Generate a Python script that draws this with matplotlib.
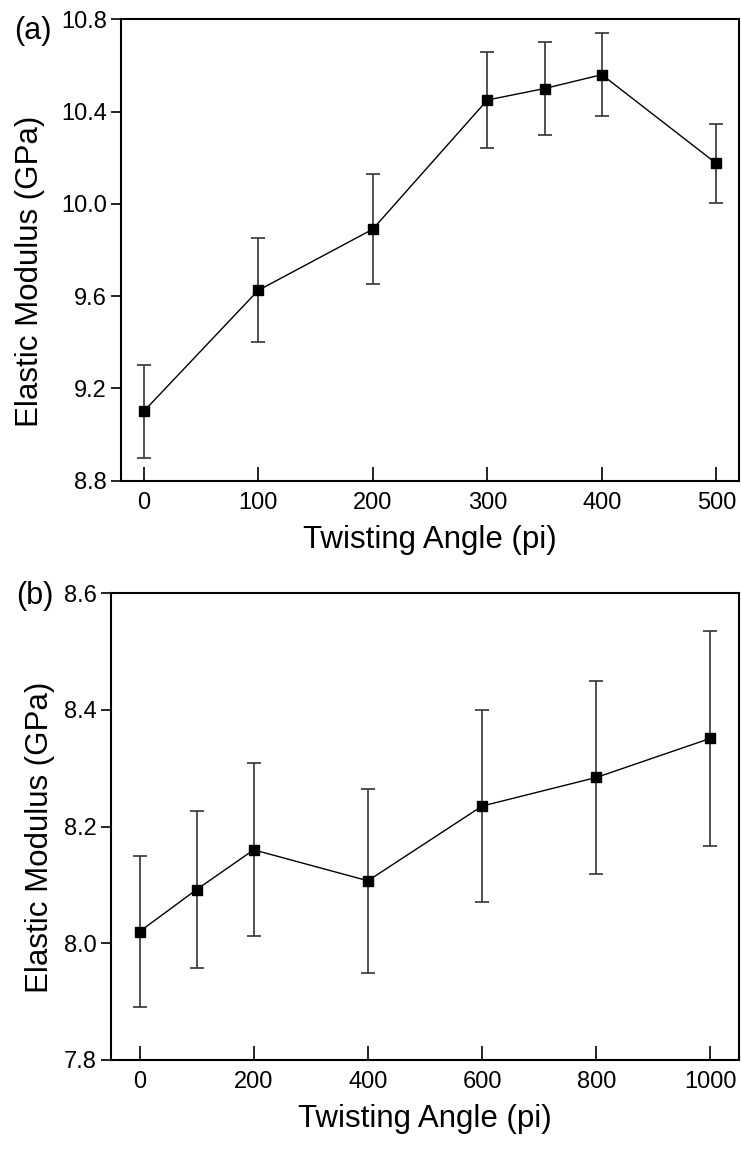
import matplotlib
matplotlib.use('Agg')
import matplotlib.pyplot as plt

plt.rcParams.update({
    'font.family': ['Liberation Sans', 'DejaVu Sans'],
    'font.size': 17,
})

# panel (a)
angle_a = [0, 100, 200, 300, 350, 400, 500]
mod_a = [9.10, 9.625, 9.89, 10.45, 10.50, 10.56, 10.175]
err_a = [0.20, 0.225, 0.238, 0.21, 0.20, 0.18, 0.173]
yticks_a = [8.8, 9.2, 9.6, 10.0, 10.4, 10.8]
xticks_a = [0, 100, 200, 300, 400, 500]

# panel (b)
angle_b = [0, 100, 200, 400, 600, 800, 1000]
mod_b = [8.020, 8.092, 8.160, 8.107, 8.235, 8.284, 8.351]
err_b = [0.129, 0.135, 0.148, 0.158, 0.165, 0.166, 0.184]
yticks_b = [7.8, 8.0, 8.2, 8.4, 8.6]
xticks_b = [0, 200, 400, 600, 800, 1000]

W, H = 741, 1149
fig = plt.figure(figsize=(W / 100, H / 100), dpi=100)


def rect(l, t, r, b):
    return [l / W, 1 - b / H, (r - l) / W, (b - t) / H]


ax1 = fig.add_axes(rect(120.7, 19.3, 739.3, 480.7))
ax2 = fig.add_axes(rect(111, 593, 739, 1060))


def style(ax, x, y, e, xl, yl, xt, yt, fmt, lab_xy):
    ax.errorbar(x, y, yerr=e, fmt='-s', color='black', ms=7, lw=1.0,
                ecolor='#333333', elinewidth=1.2, capsize=5, capthick=1.2)
    ax.set_xlim(*xl)
    ax.set_ylim(*yl)
    ax.set_xticks(xt)
    ax.set_yticks(yt)
    ax.set_yticklabels([fmt.format(v) for v in yt])
    ax.tick_params(axis='x', direction='in', length=10, width=1.2, pad=8,
                   labelsize=17)
    ax.tick_params(axis='y', direction='out', length=7, width=1.2, pad=3,
                   labelsize=17)
    for s in ax.spines.values():
        s.set_linewidth(1.5)
    ax.set_xlabel('Twisting Angle (pi)', fontsize=22.5, labelpad=8)
    ax.set_ylabel('Elastic Modulus (GPa)', fontsize=22.5)
    ax.yaxis.set_label_coords(lab_xy[0] / W, 1 - lab_xy[1] / H,
                              transform=fig.transFigure)


style(ax1, angle_a, mod_a, err_a, (-20, 520), (8.8, 10.8),
      xticks_a, yticks_a, '{:.1f}', (45, 271))
style(ax2, angle_b, mod_b, err_b, (-50, 1050), (7.8, 8.6),
      xticks_b, yticks_b, '{:.1f}', (55, 837))

fig.text(14 / W, 1 - 31 / H, '(a)', fontsize=22, va='center', ha='left')
fig.text(16 / W, 1 - 596 / H, '(b)', fontsize=22, va='center', ha='left')

fig.savefig('out.png', dpi=100)
